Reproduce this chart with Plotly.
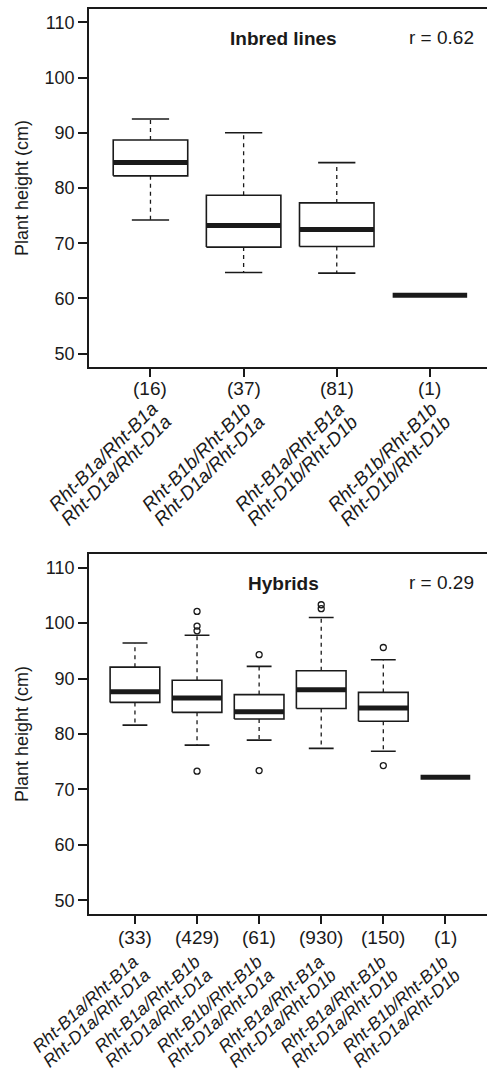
import plotly.graph_objects as go

# ---------------- data ----------------
# Inbred lines
inbred_line1 = ["Rht-B1a/Rht-B1a", "Rht-B1b/Rht-B1b", "Rht-B1a/Rht-B1a", "Rht-B1b/Rht-B1b"]
inbred_line2 = ["Rht-D1a/Rht-D1a", "Rht-D1a/Rht-D1a", "Rht-D1b/Rht-D1b", "Rht-D1b/Rht-D1b"]
inbred_n = [16, 37, 81, 1]
inbred_lower = [74.2, 64.7, 64.6, 60.6]
inbred_q1 = [82.2, 69.3, 69.4, 60.6]
inbred_median = [84.6, 73.2, 72.5, 60.6]
inbred_q3 = [88.7, 78.7, 77.3, 60.6]
inbred_upper = [92.5, 90.0, 84.6, 60.6]
inbred_outliers = [[], [], [], []]
inbred_title = "Inbred lines"
inbred_r = "r = 0.62"

# Hybrids
hybrid_line1 = ["Rht-B1a/Rht-B1a", "Rht-B1a/Rht-B1b", "Rht-B1b/Rht-B1b",
                "Rht-B1a/Rht-B1a", "Rht-B1a/Rht-B1b", "Rht-B1b/Rht-B1b"]
hybrid_line2 = ["Rht-D1a/Rht-D1a", "Rht-D1a/Rht-D1a", "Rht-D1a/Rht-D1a",
                "Rht-D1a/Rht-D1b", "Rht-D1a/Rht-D1b", "Rht-D1a/Rht-D1b"]
hybrid_n = [33, 429, 61, 930, 150, 1]
hybrid_lower = [81.6, 78.0, 78.9, 77.4, 76.9, 72.2]
hybrid_q1 = [85.7, 83.9, 82.7, 84.6, 82.3, 72.2]
hybrid_median = [87.6, 86.5, 84.0, 88.0, 84.7, 72.2]
hybrid_q3 = [92.05, 89.7, 87.1, 91.4, 87.5, 72.2]
hybrid_upper = [96.4, 97.8, 92.2, 101.0, 93.4, 72.2]
hybrid_outliers = [[], [102.1, 99.45, 98.6, 73.3], [94.3, 73.4], [103.3, 102.6], [95.6, 74.3], []]
hybrid_title = "Hybrids"
hybrid_r = "r = 0.29"

y_ticks = [50, 60, 70, 80, 90, 100, 110]
y_title = "Plant height (cm)"

# ---------------- style ----------------
INK = "#1a1a1a"
FONT = "Liberation Sans, Arial, sans-serif"
FS = 18
FSN = 19
HALF = 0.4   # half box width (R boxwex 0.8)
CAP = 0.2    # half staple width

W, H = 487, 1072
fig = go.Figure()


def add_panel(xa, ya, lower, q1, med, q3, upper, outliers):
    xs = list(range(1, len(med) + 1))
    wx, wy, cx, cy, bx, by, mx, my, ox, oy = [], [], [], [], [], [], [], [], [], []
    for x, lo, a, m, b, hi, outs in zip(xs, lower, q1, med, q3, upper, outliers):
        if hi > b:
            wx += [x, x, None]; wy += [b, hi, None]
            cx += [x - CAP, x + CAP, None]; cy += [hi, hi, None]
        if lo < a:
            wx += [x, x, None]; wy += [a, lo, None]
            cx += [x - CAP, x + CAP, None]; cy += [lo, lo, None]
        if b > a:
            bx += [x - HALF, x + HALF, x + HALF, x - HALF, x - HALF, None]
            by += [a, a, b, b, a, None]
        mx += [x - HALF, x + HALF, None]; my += [m, m, None]
        for o in outs:
            ox.append(x); oy.append(o)
    common = dict(xaxis=xa, yaxis=ya, hoverinfo="skip", showlegend=False)
    fig.add_trace(go.Scatter(x=wx, y=wy, mode="lines",
                             line=dict(color=INK, width=1.3, dash="4px,4px"), **common))
    fig.add_trace(go.Scatter(x=cx, y=cy, mode="lines",
                             line=dict(color=INK, width=1.6), **common))
    fig.add_trace(go.Scatter(x=bx, y=by, mode="lines", fill="toself", fillcolor="white",
                             line=dict(color=INK, width=1.6), **common))
    fig.add_trace(go.Scatter(x=mx, y=my, mode="lines",
                             line=dict(color=INK, width=5), **common))
    fig.add_trace(go.Scatter(x=ox, y=oy, mode="markers",
                             marker=dict(symbol="circle-open", size=6, color=INK,
                                         line=dict(width=1.3, color=INK)), **common))


add_panel("x", "y", inbred_lower, inbred_q1, inbred_median, inbred_q3, inbred_upper, inbred_outliers)
add_panel("x2", "y2", hybrid_lower, hybrid_q1, hybrid_median, hybrid_q3, hybrid_upper, hybrid_outliers)


def xaxis_cfg(n, rng, anchor):
    return dict(domain=[0, 1], range=rng, anchor=anchor, tickvals=list(range(1, n + 1)),
                ticks="outside", ticklen=8, tickwidth=1.5, tickcolor=INK,
                showticklabels=False, showline=True, linecolor=INK, linewidth=1.8,
                mirror=True, showgrid=False, zeroline=False, fixedrange=True)


def yaxis_cfg(dom, anchor):
    return dict(domain=dom, range=[47.6, 112.4], anchor=anchor, tickvals=y_ticks,
                ticktext=[str(t) for t in y_ticks], ticks="outside", ticklen=9,
                tickwidth=1.5, tickcolor=INK, showline=True, linecolor=INK,
                linewidth=1.8, mirror=False, showgrid=False, zeroline=False,
                tickfont=dict(family=FONT, size=FS, color=INK), fixedrange=True)


fig.update_layout(
    width=W, height=H, margin=dict(l=89, r=0, t=0, b=0, autoexpand=False),
    paper_bgcolor="white", plot_bgcolor="white",
    font=dict(family=FONT, size=FS, color=INK),
    xaxis=xaxis_cfg(len(inbred_n), [0.34, 4.613], "y"),
    yaxis=yaxis_cfg([1 - 367 / H, 1 - 9 / H], "x"),
    xaxis2=xaxis_cfg(len(hybrid_n), [0.26, 6.67], "y2"),
    yaxis2=yaxis_cfg([1 - 913.7 / H, 1 - 554.3 / H], "x2"),
)

ann = []


def panel_text(xd, yd, title, rtxt, line1, line2, counts, count_dy,
               angle, lab_size, l1, l2):
    ann.append(dict(text="<b>%s</b>" % title, xref=xd, yref=yd, x=0.4887, y=1,
                    yshift=-29, xanchor="center", yanchor="middle", showarrow=False,
                    font=dict(family=FONT, size=FS + 1, color=INK)))
    ann.append(dict(text=rtxt, xref=xd, yref=yd, x=(476 - 89) / 398, y=1,
                    yshift=-28, xanchor="right", yanchor="middle", showarrow=False,
                    font=dict(family=FONT, size=FS + 1, color=INK)))
    ann.append(dict(text=y_title, xref=xd, yref=yd, x=0, xshift=-67, y=0.5,
                    textangle=-90, xanchor="center", yanchor="middle", showarrow=False,
                    font=dict(family=FONT, size=FS, color=INK)))
    xr = xd.replace(" domain", "")
    for i, (a, b, c) in enumerate(zip(line1, line2, counts)):
        ann.append(dict(text="(%d)" % c, xref=xr, yref=yd, x=i + 1, y=0, yshift=-count_dy,
                        xanchor="center", yanchor="middle", showarrow=False,
                        font=dict(family=FONT, size=FSN, color=INK)))
        for txt, (dx, dy) in ((a, l1), (b, l2)):
            ann.append(dict(text="<i>%s</i>" % txt, xref=xr, yref=yd, x=i + 1, y=0,
                            xshift=dx, yshift=-dy, textangle=-angle, xanchor="right",
                            yanchor="top", showarrow=False, borderpad=0,
                            font=dict(family=FONT, size=lab_size, color=INK)))


panel_text("x domain", "y domain", inbred_title, inbred_r, inbred_line1, inbred_line2,
           inbred_n, 21.5, 45, 19, (13, 29.5), (26.4, 43))
panel_text("x2 domain", "y2 domain", hybrid_title, hybrid_r, hybrid_line1, hybrid_line2,
           hybrid_n, 24, 42, 17.7, (8.5, 36.5), (20.5, 49.5))

fig.update_layout(annotations=ann)
fig.write_html("out.html")
